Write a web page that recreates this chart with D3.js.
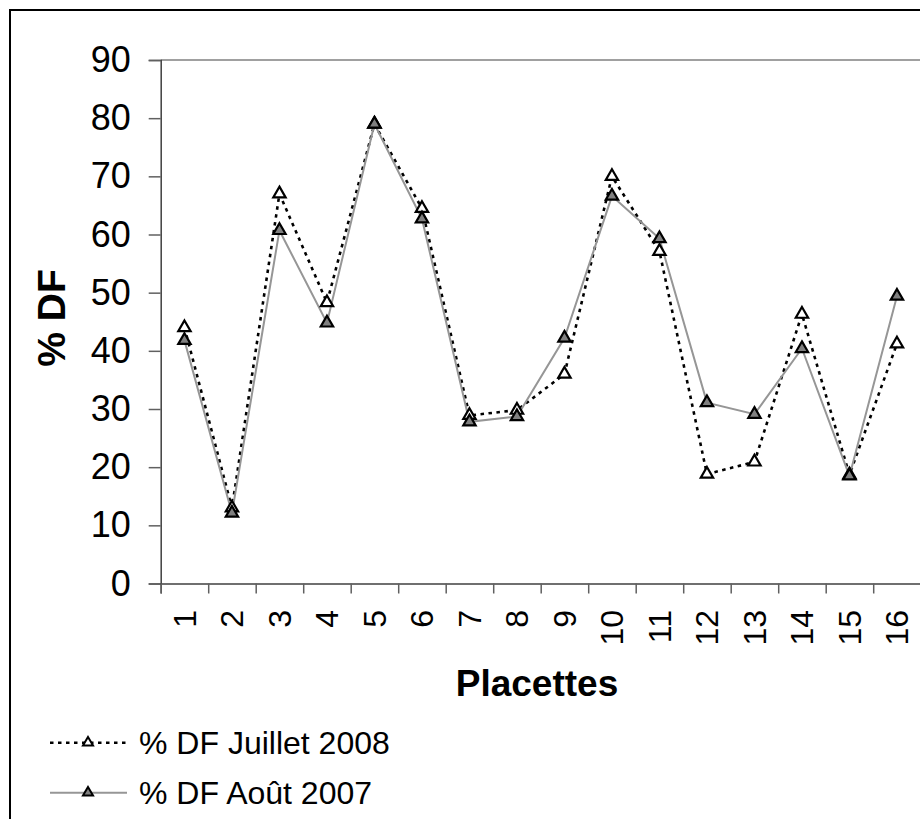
<!DOCTYPE html>
<html>
<head>
<meta charset="utf-8">
<script src="https://cdn.jsdelivr.net/npm/d3@7"></script>
<style>
  html, body { margin: 0; padding: 0; background: #fff; overflow: hidden; }
  svg { display: block; }
  text { font-family: "Liberation Sans", Arial, sans-serif; fill: #000; }
</style>
</head>
<body>
<svg id="chart" width="920" height="819"></svg>
<script>
// Placettes (sampling plots) along the x axis
const placettes = ["1","2","3","4","5","6","7","8","9","10","11","12","13","14","15","16"];

// % DF per plot, two survey dates
const dfJuillet2008 = [44, 13, 67, 48.3, 79, 64.5, 28.9, 29.8, 36, 70, 57.1, 18.8, 20.9, 46.3, 18.7, 41.2];
const dfAout2007    = [41.8, 12.1, 60.7, 44.8, 79, 62.7, 27.8, 28.7, 42.2, 66.6, 59.3, 31.1, 29.1, 40.4, 18.5, 49.4];

const yTicks = [0, 10, 20, 30, 40, 50, 60, 70, 80, 90];

const seriesNames = ["% DF Juillet 2008", "% DF Août 2007"];

const svg = d3.select("#chart");

// outer chart frame
svg.append("rect")
  .attr("x", 10).attr("y", 10)
  .attr("width", 1000).attr("height", 1000)
  .attr("fill", "#fff").attr("stroke", "#000").attr("stroke-width", 2);

const plot = { left: 160.7, right: 920.7, top: 60, bottom: 583.5 };

const x = d3.scaleBand().domain(placettes).range([plot.left, plot.right]).padding(0);
const xEdge = d3.scaleLinear().domain([0, placettes.length]).range([plot.left, plot.right]);
const y = d3.scaleLinear().domain([0, 90]).range([plot.bottom, plot.top]);

// plot area top border
svg.append("line")
  .attr("x1", plot.left).attr("x2", plot.right)
  .attr("y1", y(90)).attr("y2", y(90))
  .attr("stroke", "#808080").attr("stroke-width", 1.5);

// y axis
const yAxis = svg.append("g")
  .attr("transform", `translate(${plot.left},0)`)
  .call(d3.axisLeft(y).tickValues(yTicks).tickSize(12).tickPadding(18).tickFormat(d3.format("d")));
yAxis.select(".domain").attr("stroke", "#404040").attr("stroke-width", 1.5);
yAxis.selectAll(".tick line").attr("stroke", "#606060").attr("stroke-width", 1.5);
yAxis.selectAll(".tick text")
  .attr("font-family", "Liberation Sans, Arial, sans-serif")
  .attr("font-size", 36).attr("fill", "#000");

// x axis: ticks on plot boundaries
const xAxis = svg.append("g")
  .attr("transform", `translate(0,${plot.bottom})`)
  .call(d3.axisBottom(xEdge).tickValues(d3.range(0, placettes.length + 1)).tickSize(10).tickFormat(""));
xAxis.select(".domain").attr("stroke", "#404040").attr("stroke-width", 1.5);
xAxis.selectAll(".tick line").attr("stroke", "#606060").attr("stroke-width", 1.5);

// rotated category labels
svg.append("g").selectAll("text")
  .data(placettes)
  .join("text")
  .attr("transform", d => `translate(${x(d) + x.bandwidth() / 2},610) rotate(-90)`)
  .attr("text-anchor", "end")
  .attr("dy", "0.36em")
  .attr("font-size", 32)
  .text(d => d);

// axis titles
svg.append("text")
  .attr("x", 537).attr("y", 696)
  .attr("text-anchor", "middle")
  .attr("font-size", 37).attr("font-weight", "bold")
  .text("Placettes");

svg.append("text")
  .attr("transform", "translate(65,318) rotate(-90)")
  .attr("text-anchor", "middle")
  .attr("font-size", 39).attr("font-weight", "bold")
  .text("% DF");

// series lines
const line = d3.line()
  .x((d, i) => x(placettes[i]) + x.bandwidth() / 2)
  .y(d => y(d));

svg.append("path")
  .datum(dfJuillet2008)
  .attr("d", line)
  .attr("fill", "none").attr("stroke", "#000")
  .attr("stroke-width", 2.6).attr("stroke-dasharray", "3.5,4.5");

svg.append("path")
  .datum(dfAout2007)
  .attr("d", line)
  .attr("fill", "none").attr("stroke", "#969696")
  .attr("stroke-width", 2);

// markers
const tri = d3.symbol().type(d3.symbolTriangle).size(66);

svg.append("g").selectAll("path")
  .data(dfJuillet2008)
  .join("path")
  .attr("d", tri)
  .attr("transform", (d, i) => `translate(${x(placettes[i]) + x.bandwidth() / 2},${y(d)})`)
  .attr("fill", "#fff").attr("stroke", "#000").attr("stroke-width", 2.2);

svg.append("g").selectAll("path")
  .data(dfAout2007)
  .join("path")
  .attr("d", tri)
  .attr("transform", (d, i) => `translate(${x(placettes[i]) + x.bandwidth() / 2},${y(d)})`)
  .attr("fill", "#808080").attr("stroke", "#000").attr("stroke-width", 2.2);

// legend
const legend = svg.append("g");
const legendRows = [
  { name: seriesNames[0], y: 742.7, stroke: "#000", dash: "3.5,4.5", width: 2.6, fill: "#fff" },
  { name: seriesNames[1], y: 792.7, stroke: "#969696", dash: null, width: 2, fill: "#808080" }
];
const legTri = d3.symbol().type(d3.symbolTriangle).size(44);
legendRows.forEach(r => {
  legend.append("line")
    .attr("x1", 50).attr("x2", 127).attr("y1", r.y).attr("y2", r.y)
    .attr("stroke", r.stroke).attr("stroke-width", r.width)
    .attr("stroke-dasharray", r.dash);
  legend.append("path")
    .attr("d", legTri)
    .attr("transform", `translate(88,${r.y})`)
    .attr("fill", r.fill).attr("stroke", "#000").attr("stroke-width", 2);
  legend.append("text")
    .attr("x", 139).attr("y", r.y)
    .attr("dy", "0.36em")
    .attr("font-size", 32)
    .text(r.name);
});
</script>
</body>
</html>
